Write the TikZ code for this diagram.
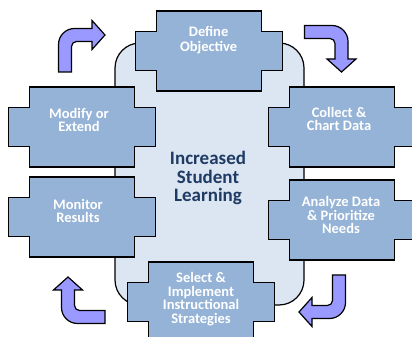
\documentclass[tikz,border=0pt]{standalone}
\usepackage{fontspec}
\setmainfont{Carlito}
\usetikzlibrary{positioning}
\definecolor{boxblue}{HTML}{95B3D7}
\definecolor{coreblue}{HTML}{DCE6F2}
\definecolor{turnblue}{HTML}{9999FF}
\definecolor{navy}{HTML}{1F3B64}
\tikzset{boxline/.style = {draw, fill=boxblue, line width=1.5pt}}
\tikzset{boxtext/.style = {text=white, align=center, inner sep=0,
    font=\bfseries\fontsize{14.5}{13.5}\selectfont}}
\tikzset{turn/.style = {draw, fill=turnblue, line width=1.2pt, line join=miter}}
\newcommand{\crossbox}[1]{%
  \draw [boxline, shift={#1}] (-52.5, 40) -- (52.5, 40) -- (52.5, 19.5)
    -- (73.5, 19.5) -- (73.5, -19.5) -- (52.5, -19.5) -- (52.5, -40)
    -- (-52.5, -40) -- (-52.5, -19.5) -- (-73.5, -19.5) -- (-73.5, 19.5)
    -- (-52.5, 19.5) -- cycle;}
\newcommand{\turnarrow}[2]{%
  \draw [turn, shift={#1}, rotate=#2] (-6.5, -37) -- (-6.5, -9.5)
    arc (180:90:16) -- (27, 6.5) -- (27, 14.5) -- (40, 0)
    -- (27, -14.5) -- (27, -6.5) -- (11.5, -6.5) arc (90:180:5)
    -- (6.5, -37) -- cycle;}

\begin{document}
\begin{tikzpicture}[x=1pt, y=1pt]
    \clip (0, 0) rectangle (412, 337);

    % centre
    \draw [fill=coreblue, line width=1.2pt, rounded corners=25pt]
      (115, 32) rectangle (304, 294);
    \node [text=navy, align=center, font=\bfseries\fontsize{19}{18.5}\selectfont]
      (core) at (208, 159) {Increased\\Student\\Learning};

    % steps
    \crossbox{(209, 286)}
    \node [boxtext, font=\bfseries\fontsize{14.5}{15.5}\selectfont]
      (define) at (208.6, 297) {Define\\Objective};
    \crossbox{(342, 210)}
    \node [boxtext] (collect) at (339, 218) {Collect \&\\Chart Data};
    \crossbox{(342, 117)}
    \node [boxtext] (analyze) at (341, 122) {Analyze Data\\\& Prioritize\\Needs};
    \crossbox{(201, 35)}
    \node [boxtext] (select) at (201, 38) {Select \&\\Implement\\Instructional\\Strategies};
    \crossbox{(82, 120)}
    \node [boxtext] (monitor) at (78, 126) {Monitor\\Results};
    \crossbox{(82, 210)}
    \node [boxtext] (modify) at (79, 217) {Modify or\\Extend};

    % turns
    \turnarrow{(65, 302)}{0}
    \turnarrow{(341.5, 305)}{-90}
    \turnarrow{(339, 25)}{180}
    \turnarrow{(68, 20)}{90}
\end{tikzpicture}
\end{document}
